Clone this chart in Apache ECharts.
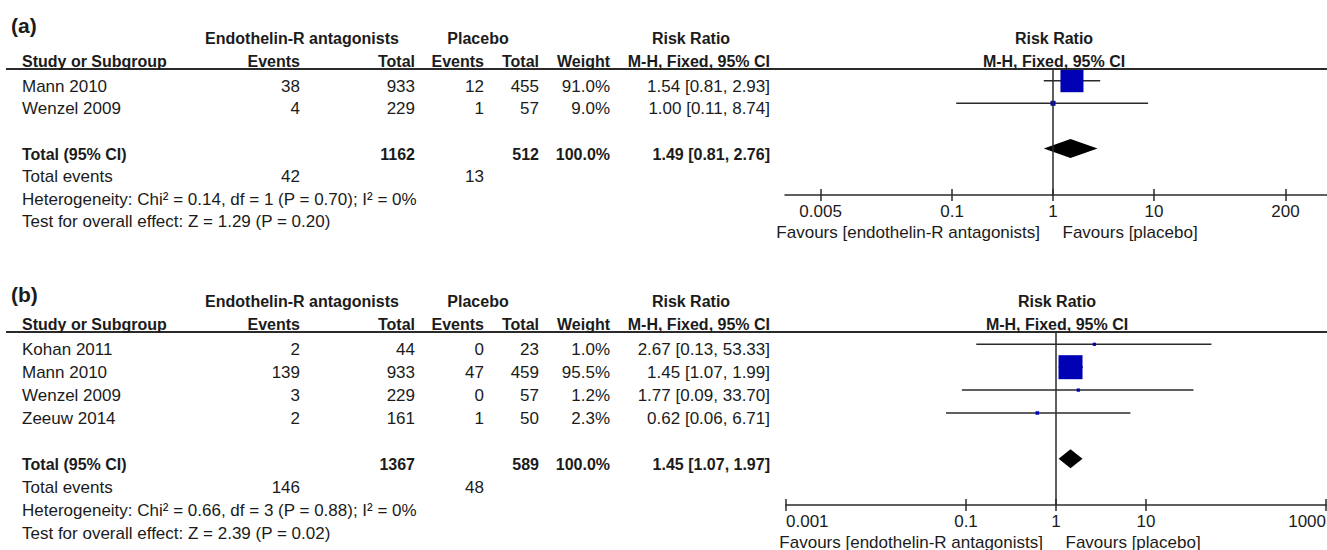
<!DOCTYPE html>
<html>
<head>
<meta charset="utf-8">
<script src="https://cdn.jsdelivr.net/npm/echarts@6/dist/echarts.min.js"></script>
<style>
  html, body { margin: 0; padding: 0; background: #ffffff; }
  #chart { width: 1327px; height: 550px; }
</style>
</head>
<body>
<div id="chart"></div>
<script>
// ---------- (a) ----------
const studiesA   = ['Mann 2010', 'Wenzel 2009'];
const expEventsA = [38, 4];
const expTotalA  = [933, 229];
const plcEventsA = [12, 1];
const plcTotalA  = [455, 57];
const weightA    = [91.0, 9.0];
const rrA        = [1.54, 1.00];
const lowA       = [0.81, 0.11];
const highA      = [2.93, 8.74];
const pooledA    = [1.49, 0.81, 2.76];   // estimate, lower, upper
const sumTotalA  = [1162, 512];
const sumEventsA = [42, 13];
const hetA       = 'Heterogeneity: Chi\u00B2 = 0.14, df = 1 (P = 0.70); I\u00B2 = 0%';
const effectA    = 'Test for overall effect: Z = 1.29 (P = 0.20)';
const ticksA     = [0.005, 0.1, 1, 10, 200];

// ---------- (b) ----------
const studiesB   = ['Kohan 2011', 'Mann 2010', 'Wenzel 2009', 'Zeeuw 2014'];
const expEventsB = [2, 139, 3, 2];
const expTotalB  = [44, 933, 229, 161];
const plcEventsB = [0, 47, 0, 1];
const plcTotalB  = [23, 459, 57, 50];
const weightB    = [1.0, 95.5, 1.2, 2.3];
const rrB        = [2.67, 1.45, 1.77, 0.62];
const lowB       = [0.13, 1.07, 0.09, 0.06];
const highB      = [53.33, 1.99, 33.70, 6.71];
const pooledB    = [1.45, 1.07, 1.97];
const sumTotalB  = [1367, 589];
const sumEventsB = [146, 48];
const hetB       = 'Heterogeneity: Chi\u00B2 = 0.66, df = 3 (P = 0.88); I\u00B2 = 0%';
const effectB    = 'Test for overall effect: Z = 2.39 (P = 0.02)';
const ticksB     = [0.001, 0.1, 1, 10, 1000];

// ---------- shared text ----------
const expGroup   = 'Endothelin-R antagonists';
const plcGroup   = 'Placebo';
const rrTitle    = 'Risk Ratio';
const rrMethod   = 'M-H, Fixed, 95% CI';
const colTitles  = ['Study or Subgroup', 'Events', 'Total', 'Events', 'Total', 'Weight'];
const totalLabel = 'Total (95% CI)';
const eventsLabel = 'Total events';
const favourLeft  = 'Favours [endothelin-R antagonists]';
const favourRight = 'Favours [placebo]';

// ---------- layout ----------
const W = 1327;
const FONT = '"Liberation Sans", Arial, Helvetica, sans-serif';
const INK = '#1b1b1b';
const RULE = '#2a2a2a';
const SQUARE = '#0000b4';
const COL = { study: 22, expEvents: 300, expTotal: 415, plcEvents: 484, plcTotal: 539, weight: 610, ci: 770 };
const GROUP_X = { exp: 302, plc: 478, rr: 691 };
const TEXT_SHIFT = 5.5;

const panels = [
  {
    tag: '(a)', tagY: 25, top: 69, axisY: 195, firstRow: 80.7, step: 22.6,
    left: 785, right: 0, xMin: 0.00222, xMax: 516, ticks: ticksA, alignEnds: false,
    studies: studiesA, expEvents: expEventsA, expTotal: expTotalA, plcEvents: plcEventsA,
    plcTotal: plcTotalA, weight: weightA, rr: rrA, low: lowA, high: highA,
    pooled: pooledA, sumTotal: sumTotalA, sumEvents: sumEventsA, het: hetA, effect: effectA
  },
  {
    tag: '(b)', tagY: 294, top: 332, axisY: 505, firstRow: 344.3, step: 22.9,
    left: 786, right: 1, xMin: 0.001, xMax: 1000, ticks: ticksB, alignEnds: true,
    studies: studiesB, expEvents: expEventsB, expTotal: expTotalB, plcEvents: plcEventsB,
    plcTotal: plcTotalB, weight: weightB, rr: rrB, low: lowB, high: highB,
    pooled: pooledB, sumTotal: sumTotalB, sumEvents: sumEventsB, het: hetB, effect: effectB
  }
];

function ciText(e, l, h) {
  return e.toFixed(2) + ' [' + l.toFixed(2) + ', ' + h.toFixed(2) + ']';
}
function tickFormatter(ticks) {
  return function (v) {
    let best = ticks[0];
    const lv = Math.log10(v);
    ticks.forEach(function (t) {
      if (Math.abs(Math.log10(t) - lv) < Math.abs(Math.log10(best) - lv)) best = t;
    });
    return String(best);
  };
}

// study rows: CI whisker plus a weight-scaled square
function renderStudy(params, api) {
  const row = api.value(3);
  const est = api.coord([api.value(0), row]);
  const lo = api.coord([api.value(1), row]);
  const hi = api.coord([api.value(2), row]);
  const side = 3 + 22 * api.value(4) / 100;
  return {
    type: 'group',
    children: [
      { type: 'line', shape: { x1: lo[0], y1: lo[1], x2: hi[0], y2: hi[1] },
        style: { stroke: RULE, lineWidth: 1.5 } },
      { type: 'rect', shape: { x: est[0] - side / 2, y: est[1] - side / 2, width: side, height: side },
        style: { fill: SQUARE } }
    ]
  };
}
// pooled estimate diamond
function renderDiamond(params, api) {
  const row = api.value(3);
  const est = api.coord([api.value(0), row]);
  const lo = api.coord([api.value(1), row]);
  const hi = api.coord([api.value(2), row]);
  const h = 9.5;
  return {
    type: 'polygon',
    shape: { points: [[lo[0], lo[1]], [est[0], est[1] - h], [hi[0], hi[1]], [est[0], est[1] + h]] },
    style: { fill: '#000000' }
  };
}

const grids = [], xAxes = [], yAxes = [], series = [];
panels.forEach(function (p, i) {
  const plotH = p.axisY - p.top;
  grids.push({ left: p.left, right: p.right, top: p.top, height: plotH,
               outerBoundsMode: 'none', containLabel: false });
  const common = { type: 'log', logBase: 10, gridIndex: i, min: p.xMin, max: p.xMax,
                   splitLine: { show: false }, minorTick: { show: false } };
  // scale with labels and downward ticks
  xAxes.push(Object.assign({}, common, {
    position: 'bottom',
    axisLine: { show: true, onZero: false, lineStyle: { color: RULE, width: 1.5 } },
    axisTick: { show: true, inside: false, length: 6, customValues: p.ticks,
                lineStyle: { color: RULE, width: 1.5 } },
    axisLabel: { show: true, customValues: p.ticks, margin: 8, fontSize: 17, fontFamily: FONT,
                 color: INK, formatter: tickFormatter(p.ticks),
                 alignMinLabel: p.alignEnds ? 'left' : null,
                 alignMaxLabel: p.alignEnds ? 'right' : null }
  }));
  // twin scale moved down onto the same baseline, giving the upward half of each tick
  xAxes.push(Object.assign({}, common, {
    position: 'top', offset: -plotH,
    axisLine: { show: false, onZero: false },
    axisTick: { show: true, inside: false, length: 6, customValues: p.ticks,
                lineStyle: { color: RULE, width: 1.5 } },
    axisLabel: { show: false }
  }));
  yAxes.push({ type: 'value', gridIndex: i, inverse: true, show: false,
               min: -(p.firstRow - p.top) / p.step, max: (p.axisY - p.firstRow) / p.step });

  const n = p.studies.length;
  series.push({
    type: 'custom', xAxisIndex: 2 * i, yAxisIndex: i, clip: false, silent: true,
    renderItem: renderStudy, encode: { x: [0, 1, 2], y: 3 },
    data: p.studies.map(function (s, k) { return [p.rr[k], p.low[k], p.high[k], k, p.weight[k]]; })
  });
  series.push({
    type: 'custom', xAxisIndex: 2 * i, yAxisIndex: i, clip: false, silent: true,
    renderItem: renderDiamond, encode: { x: [0, 1, 2], y: 3 },
    data: [[p.pooled[0], p.pooled[1], p.pooled[2], n + 1]]
  });
  // line of no effect
  series.push({
    type: 'line', xAxisIndex: 2 * i, yAxisIndex: i, data: [], silent: true,
    markLine: { symbol: 'none', silent: true, label: { show: false }, animation: false,
                lineStyle: { type: 'solid', color: RULE, width: 1.5 },
                emphasis: { disabled: true }, data: [{ xAxis: 1 }] }
  });
});

const chart = echarts.init(document.getElementById('chart'), null, { renderer: 'svg' });
chart.setOption({
  animation: false,
  backgroundColor: '#ffffff',
  grid: grids, xAxis: xAxes, yAxis: yAxes, series: series
});

// ---------- table text, tied to the plot rows ----------
function txt(text, x, y, align, bold, size) {
  return {
    type: 'text', silent: true, z: 10,
    style: { text: text, x: x, y: y, align: align, verticalAlign: 'middle',
             fontFamily: FONT, fontSize: size || (bold ? 16 : 17),
             fontWeight: bold ? 'bold' : 'normal', fill: INK }
  };
}

const graphics = [];
panels.forEach(function (p, i) {
  const finder = { xAxisIndex: 2 * i, yAxisIndex: i };
  const rowY = function (r) { return chart.convertToPixel(finder, [1, r])[1] + TEXT_SHIFT; };
  const oneX = chart.convertToPixel(finder, [1, 0])[0];
  const ruleY = p.top;
  const h1 = ruleY - 31, h2 = ruleY - 8;

  graphics.push(txt(p.tag, 11, p.tagY, 'left', true, 21));
  graphics.push(txt(expGroup, GROUP_X.exp, h1, 'center', true));
  graphics.push(txt(plcGroup, GROUP_X.plc, h1, 'center', true));
  graphics.push(txt(rrTitle, GROUP_X.rr, h1, 'center', true));
  graphics.push(txt(rrTitle, oneX + 1, h1, 'center', true));

  graphics.push(txt(colTitles[0], COL.study, h2, 'left', true));
  graphics.push(txt(colTitles[1], COL.expEvents, h2, 'right', true));
  graphics.push(txt(colTitles[2], COL.expTotal, h2, 'right', true));
  graphics.push(txt(colTitles[3], COL.plcEvents, h2, 'right', true));
  graphics.push(txt(colTitles[4], COL.plcTotal, h2, 'right', true));
  graphics.push(txt(colTitles[5], COL.weight, h2, 'right', true));
  graphics.push(txt(rrMethod, COL.ci, h2, 'right', true));
  graphics.push(txt(rrMethod, oneX + 1, h2, 'center', true));

  graphics.push({ type: 'line', silent: true, z: 9,
                  shape: { x1: 6, y1: ruleY, x2: W, y2: ruleY },
                  style: { stroke: RULE, lineWidth: 2 } });

  p.studies.forEach(function (s, k) {
    const y = rowY(k);
    graphics.push(txt(s, COL.study, y, 'left'));
    graphics.push(txt(String(p.expEvents[k]), COL.expEvents, y, 'right'));
    graphics.push(txt(String(p.expTotal[k]), COL.expTotal, y, 'right'));
    graphics.push(txt(String(p.plcEvents[k]), COL.plcEvents, y, 'right'));
    graphics.push(txt(String(p.plcTotal[k]), COL.plcTotal, y, 'right'));
    graphics.push(txt(p.weight[k].toFixed(1) + '%', COL.weight, y, 'right'));
    graphics.push(txt(ciText(p.rr[k], p.low[k], p.high[k]), COL.ci, y, 'right'));
  });

  const n = p.studies.length;
  const yT = rowY(n + 1);
  const totalWeight = p.weight.reduce(function (a, b) { return a + b; }, 0);
  graphics.push(txt(totalLabel, COL.study, yT, 'left', true));
  graphics.push(txt(String(p.sumTotal[0]), COL.expTotal, yT, 'right', true));
  graphics.push(txt(String(p.sumTotal[1]), COL.plcTotal, yT, 'right', true));
  graphics.push(txt(totalWeight.toFixed(1) + '%', COL.weight, yT, 'right', true));
  graphics.push(txt(ciText(p.pooled[0], p.pooled[1], p.pooled[2]), COL.ci, yT, 'right', true));

  const yE = rowY(n + 2);
  graphics.push(txt(eventsLabel, COL.study, yE, 'left'));
  graphics.push(txt(String(p.sumEvents[0]), COL.expEvents, yE, 'right'));
  graphics.push(txt(String(p.sumEvents[1]), COL.plcEvents, yE, 'right'));
  graphics.push(txt(p.het, COL.study, rowY(n + 3), 'left'));
  graphics.push(txt(p.effect, COL.study, rowY(n + 4), 'left'));

  const fy = p.axisY + 37;
  graphics.push(txt(favourLeft, oneX - 13, fy, 'right'));
  graphics.push(txt(favourRight, oneX + 9.5, fy, 'left'));
});

chart.setOption({ graphic: graphics });
</script>
</body>
</html>
